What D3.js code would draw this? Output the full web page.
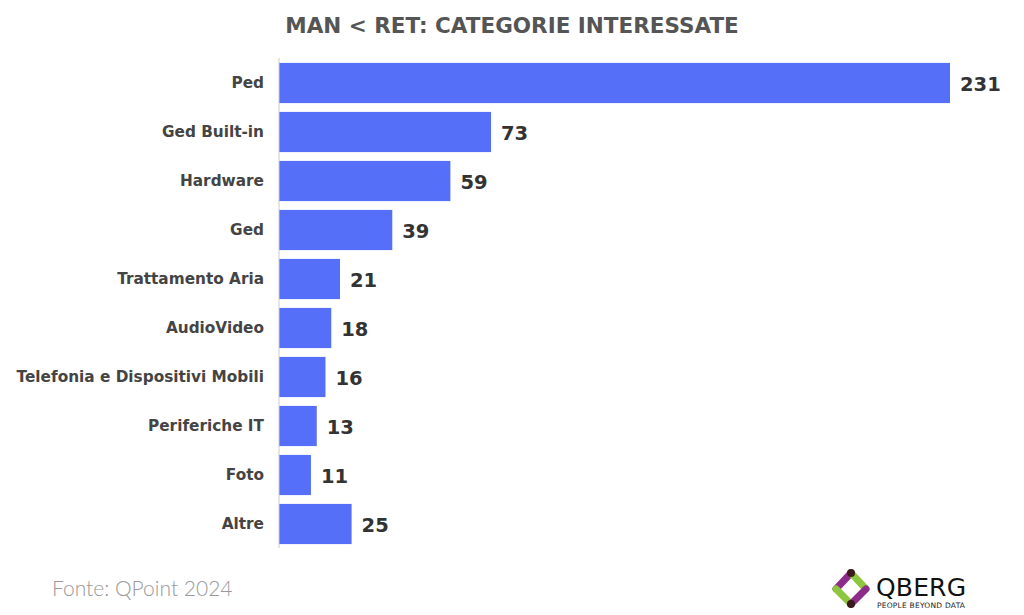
<!DOCTYPE html>
<html><head><meta charset="utf-8">
<script src="https://cdn.jsdelivr.net/npm/d3@7"></script>
<style>body{margin:0;background:#fff}</style></head>
<body><svg id="c" width="1024" height="615"></svg>
<script>
const categories=["Ped","Ged Built-in","Hardware","Ged","Trattamento Aria","AudioVideo","Telefonia e Dispositivi Mobili","Periferiche IT","Foto","Altre"];
const values=[231,73,59,39,21,18,16,13,11,25];
const svg=d3.select("#c");
const x=d3.scaleLinear().domain([0,231]).range([279,950]);
const y=d3.scaleBand().domain(categories).range([58.5,548.5]).paddingInner(0.18).paddingOuter(0.09);
svg.append("text").attr("x",512).attr("y",33).attr("text-anchor","middle").attr("font-family","DejaVu Sans").attr("font-weight",700).attr("font-size",21.5).attr("fill","#555").text("MAN < RET: CATEGORIE INTERESSATE");
svg.selectAll("rect.b").data(values).join("rect").attr("x",x(0)).attr("y",(d,i)=>y(categories[i])).attr("width",d=>x(d)-x(0)).attr("height",y.bandwidth()).attr("fill","#566ff8");
svg.append("line").attr("x1",279).attr("x2",279).attr("y1",58).attr("y2",548).attr("stroke","#ccc");
svg.selectAll("text.c").data(categories).join("text").attr("x",264).attr("y",d=>y(d)+y.bandwidth()/2+5).attr("text-anchor","end").attr("font-family","DejaVu Sans").attr("font-weight",700).attr("font-size",15.3).attr("fill","#444").text(d=>d);
svg.selectAll("text.v").data(values).join("text").attr("x",d=>x(d)+10).attr("y",(d,i)=>y(categories[i])+y.bandwidth()/2+8).attr("font-family","DejaVu Sans").attr("font-weight",700).attr("font-size",19.5).attr("fill","#333").text(d=>d);
svg.append("text").attr("x",52).attr("y",596).attr("font-family","Lato").attr("font-weight",300).attr("font-size",21).attr("fill","#999").text("Fonte: QPoint 2024");
const g=svg.append("g");
g.append("line").attr("x1",851).attr("y1",573).attr("x2",836).attr("y2",589).attr("stroke","#8e2c8c").attr("stroke-width",7).attr("stroke-linecap","round");
g.append("line").attr("x1",836).attr("y1",589).attr("x2",851).attr("y2",604).attr("stroke","#8dc63f").attr("stroke-width",7).attr("stroke-linecap","round");
g.append("line").attr("x1",851).attr("y1",573).attr("x2",866).attr("y2",589).attr("stroke","#8dc63f").attr("stroke-width",7).attr("stroke-linecap","round");
g.append("line").attr("x1",866).attr("y1",589).attr("x2",851).attr("y2",604).attr("stroke","#8e2c8c").attr("stroke-width",7).attr("stroke-linecap","round");
g.append("circle").attr("cx",851).attr("cy",573).attr("r",4).attr("fill","#3a1a1a");
g.append("circle").attr("cx",851).attr("cy",604).attr("r",4).attr("fill","#3a1a1a");
g.append("text").attr("x",876).attr("y",596).attr("font-family","DejaVu Sans").attr("font-size",25).attr("fill","#111").attr("textLength",90).text("QBERG");
g.append("text").attr("x",877).attr("y",608).attr("font-family","DejaVu Sans").attr("font-size",7.5).attr("fill","#222").attr("textLength",88).text("PEOPLE BEYOND DATA");
</script></body></html>
